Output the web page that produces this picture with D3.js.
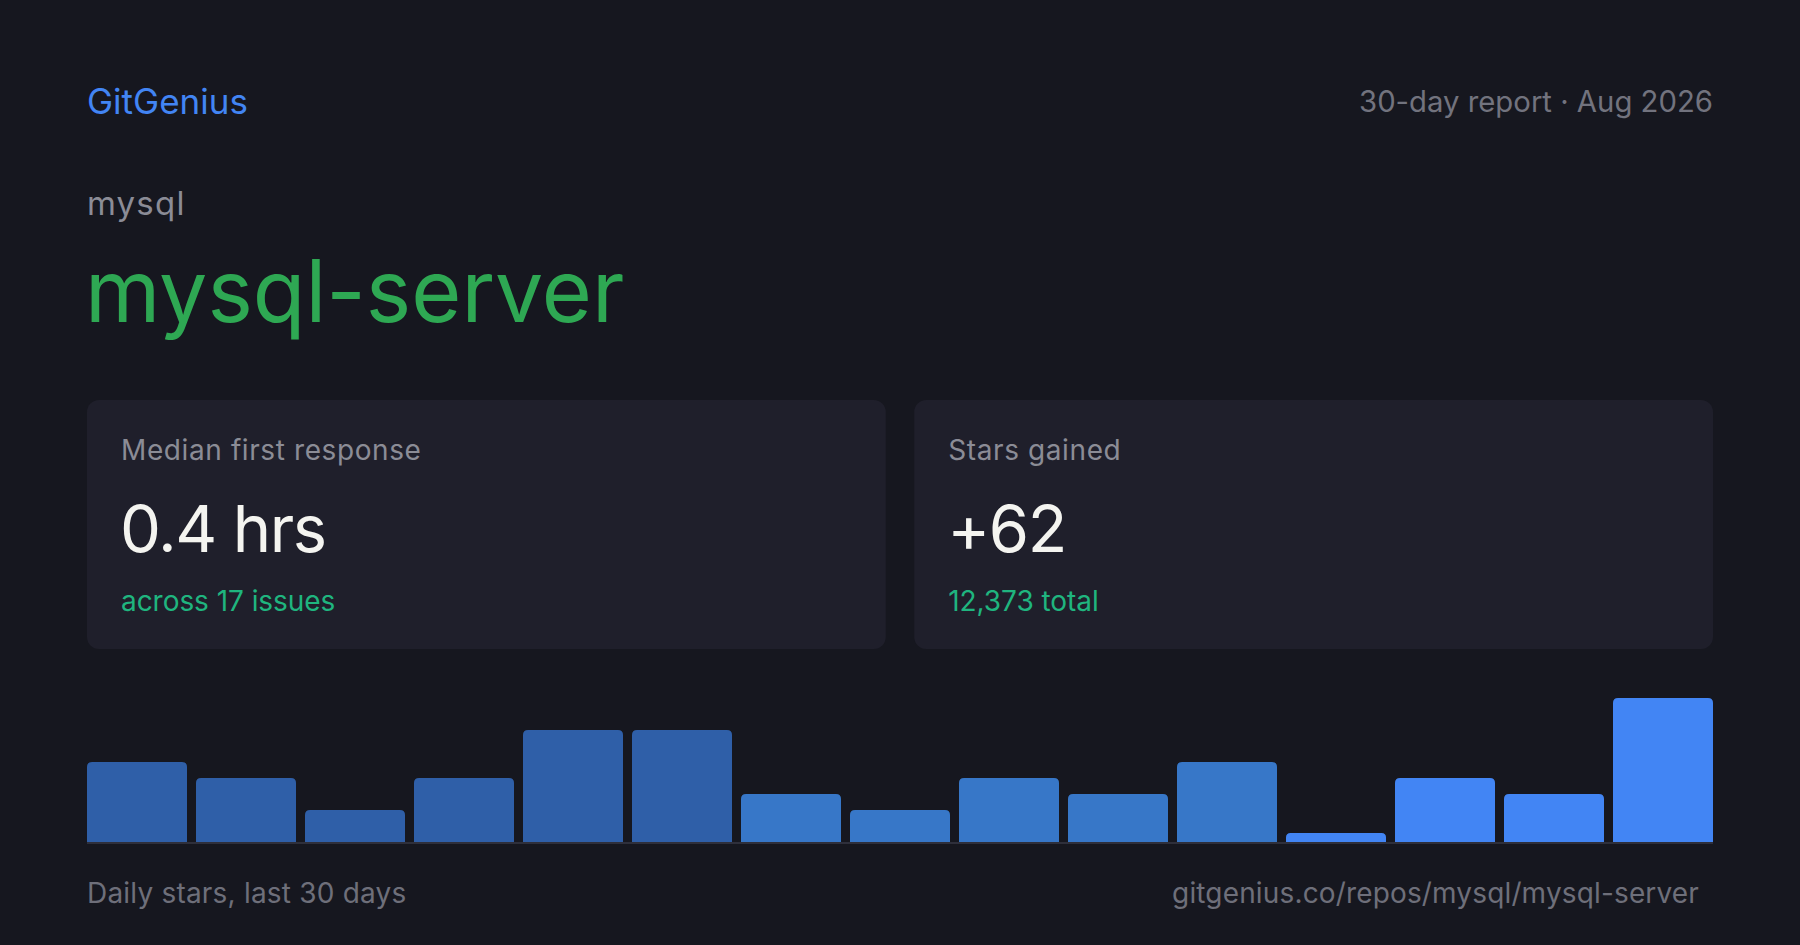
<!DOCTYPE html>
<html>
<head>
<meta charset="utf-8">
<script src="https://cdn.jsdelivr.net/npm/d3@7"></script>
<style>
  html, body { margin: 0; padding: 0; background: #16171f; }
  svg { display: block; font-family: Inter, "Noto Sans", sans-serif; }
</style>
</head>
<body>
<svg id="card" width="1800" height="945"></svg>
<script>
// repo + report header
var brand = "GitGenius";
var reportLabel = "30-day report \u00b7 Aug 2026";
var repoOwner = "mysql";
var repoName = "mysql-server";

// stat cards
var statLabels = ["Median first response", "Stars gained"];
var statValues = ["0.4 hrs", "+62"];
var statNotes = ["across 17 issues", "12,373 total"];

// daily stars, bucketed
var buckets = ["1", "2", "3", "4", "5", "6", "7", "8", "9", "10", "11", "12", "13", "14", "15"];
var stars = [5, 4, 2, 4, 7, 7, 3, 2, 4, 3, 5, 0, 4, 3, 9];

var chartCaption = "Daily stars, last 30 days";
var repoUrl = "gitgenius.co/repos/mysql/mysql-server";

var W = 1800, H = 945, padX = 87;
var svg = d3.select("#card");

svg.append("rect").attr("width", W).attr("height", H).attr("fill", "#16171f");

// header
svg.append("text").attr("x", padX).attr("y", 114)
    .attr("font-size", 35).attr("fill", "#4285f4").text(brand);
svg.append("text").attr("x", W - padX).attr("y", 112).attr("text-anchor", "end")
    .attr("font-size", 29.3).attr("fill", "#72737e").text(reportLabel);

svg.append("text").attr("x", padX).attr("y", 215)
    .attr("font-size", 33).attr("letter-spacing", 1.2).attr("fill", "#8b8c96").text(repoOwner);
svg.append("text").attr("x", padX - 2).attr("y", 322)
    .attr("font-size", 86).attr("fill", "#2ea853").text(repoName);

// stat cards
var cardX = d3.scaleBand().domain(d3.range(statLabels.length))
    .range([padX, W - padX]).paddingInner(28 / 813);

var cards = svg.selectAll("g.stat").data(statLabels).enter().append("g")
    .attr("class", "stat")
    .attr("transform", function (d, i) { return "translate(" + cardX(i) + ",400)"; });

cards.append("rect")
    .attr("width", cardX.bandwidth()).attr("height", 249)
    .attr("rx", 12).attr("fill", "#1f1f2b");

cards.append("text").attr("x", 34).attr("y", 60)
    .attr("font-size", 28).attr("letter-spacing", 0.6)
    .attr("fill", "#8b8c96").text(function (d) { return d; });
cards.append("text").attr("x", 33).attr("y", 152)
    .attr("font-size", 65).attr("letter-spacing", -1.4)
    .attr("fill", "#f4f4f0").text(function (d, i) { return statValues[i]; });
cards.append("text").attr("x", 34).attr("y", 211)
    .attr("font-size", 28).attr("letter-spacing", -0.05)
    .attr("fill", "#1fb57f").text(function (d, i) { return statNotes[i]; });

// bars
var base = 842;
var x = d3.scaleBand().domain(buckets).range([padX, W - padX]).paddingInner(9 / 109);
var y = d3.scaleLinear().domain([0, d3.max(stars)]).range([0, 144]);
var tone = d3.scaleThreshold().domain([6, 11]).range(["#2f5fa8", "#3777c8", "#4285f4"]);

function barPath(x0, w, h, r) {
    r = Math.min(r, h / 2);
    return "M" + x0 + "," + base +
        "V" + (base - h + r) +
        "Q" + x0 + "," + (base - h) + " " + (x0 + r) + "," + (base - h) +
        "H" + (x0 + w - r) +
        "Q" + (x0 + w) + "," + (base - h) + " " + (x0 + w) + "," + (base - h + r) +
        "V" + base + "Z";
}

svg.append("g").selectAll("path").data(stars).enter().append("path")
    .attr("fill", function (d, i) { return tone(i); })
    .attr("d", function (d, i) {
        return barPath(x(buckets[i]), x.bandwidth(), Math.max(y(d), 9), 5);
    });

svg.append("rect").attr("x", padX).attr("y", base)
    .attr("width", W - 2 * padX).attr("height", 2).attr("fill", "#2e2f3b");

// footer
svg.append("text").attr("x", padX).attr("y", 903)
    .attr("font-size", 28).attr("letter-spacing", 0.2).attr("fill", "#6e6f7a").text(chartCaption);
svg.append("text").attr("x", W - padX - 14).attr("y", 903).attr("text-anchor", "end")
    .attr("font-size", 28).attr("letter-spacing", 0.15).attr("fill", "#6e6f7a").text(repoUrl);
</script>
</body>
</html>
